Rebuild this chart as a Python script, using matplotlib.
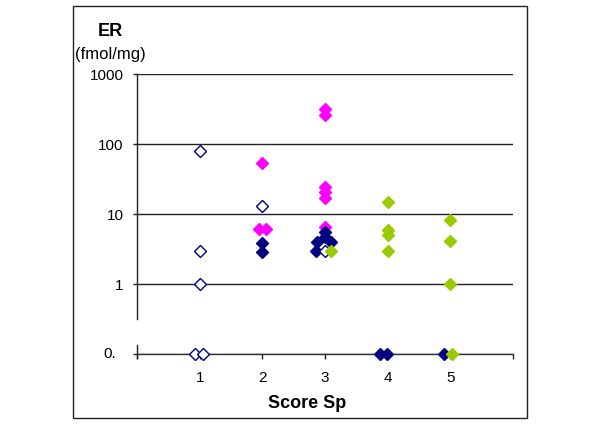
import matplotlib
matplotlib.use('Agg')
import matplotlib.pyplot as plt
from matplotlib.patches import Rectangle

plt.rcParams['font.family'] = ['Liberation Sans', 'DejaVu Sans']

# --- data ---
x_ticks = [1, 2, 3, 4, 5]
y_ticks = [0.1, 1, 10, 100, 1000]
y_tick_labels = ['', '1', '10', '100', '1000']

open_x = [1, 1, 1, 0.93, 1.05, 2, 3]
open_y = [80, 3, 1, 0.1, 0.1, 13, 3]

navy_x = [2, 2, 3, 3, 2.87, 3.1, 2.85, 3.88, 3.99, 4.9]
navy_y = [3.8, 2.9, 5.5, 4.7, 4.0, 4.0, 3.0, 0.1, 0.1, 0.1]

magenta_x = [2, 1.94, 2.06, 3, 3, 3, 3, 3, 3]
magenta_y = [53, 6.2, 6.2, 320, 260, 24.5, 20.8, 16.7, 6.5]

green_x = [3.09, 4, 4, 4, 4, 5, 5, 5, 5.02]
green_y = [3.0, 15, 5.9, 5.0, 3.0, 8.2, 4.1, 1.0, 0.1]

W, H = 600, 424
fig = plt.figure(figsize=(W / 100, H / 100), dpi=100)

# outer frame
fig.patches.append(Rectangle((73 / W, 1 - 418 / H), (527 - 73) / W, (418 - 6) / H,
                             transform=fig.transFigure, fill=False,
                             edgecolor='#222222', linewidth=1.0))

ax = fig.add_axes([137 / W, 1 - 354 / H, (513 - 137) / W, (354 - 74) / H])
ax.set_yscale('log')
ax.set_xlim(0, 6)
ax.set_ylim(0.1, 1000)

for s in ['top', 'right', 'left']:
    ax.spines[s].set_visible(False)
ax.spines['bottom'].set_color('#333333')
ax.spines['bottom'].set_linewidth(1.0)

ax.set_yticks(y_ticks)
ax.set_yticklabels(y_tick_labels)
ax.yaxis.set_minor_locator(matplotlib.ticker.NullLocator())
ax.set_xticks([0] + x_ticks + [6])
ax.set_xticklabels([''] + [str(v) for v in x_ticks] + [''])
ax.tick_params(axis='y', direction='out', length=3, width=1, pad=6.5,
               labelsize=11, colors='#222222', labelcolor='black')
ax.tick_params(axis='x', direction='out', length=3.6, width=1, pad=8.5,
               labelsize=11, colors='#222222', labelcolor='black')
ax.yaxis.grid(True, color='#222222', linewidth=1.0)
ax.set_axisbelow(True)

# broken left spine
ax.plot([0, 0], [0.316, 1000], color='#222222', lw=1.0, clip_on=False, zorder=2)
ax.plot([0, 0], [0.0877, 0.134], color='#222222', lw=1.0, clip_on=False, zorder=2)

# label "0." for the zero level
ax.annotate('0.', xy=(0, 0.1), xycoords=('axes fraction', 'data'),
            xytext=(-21, 0), textcoords='offset pixels',
            ha='right', va='center', fontsize=11)

ms = 6.2
ax.plot(magenta_x, magenta_y, 'D', color='#FF00FF', ms=ms, mec='#FF00FF',
        clip_on=False, zorder=3)
ax.plot(navy_x, navy_y, 'D', color='#000080', ms=ms, mec='#000080',
        clip_on=False, zorder=4)
ax.plot(open_x, open_y, 'D', mfc='white', mec='#000080', mew=1.0, ms=ms,
        clip_on=False, zorder=5)
ax.plot(green_x, green_y, 'D', color='#99CC00', ms=ms, mec='#99CC00',
        clip_on=False, zorder=6)

fig.text(110 / W, 1 - 32 / H, 'ER', ha='center', va='center',
         fontsize=13, fontweight='bold')
fig.text(110 / W, 1 - 54 / H, '(fmol/mg)', ha='center', va='center', fontsize=12)
fig.text(307 / W, 1 - 403 / H, 'Score Sp', ha='center', va='center',
         fontsize=13, fontweight='bold')

fig.savefig('out.png', dpi=100)
